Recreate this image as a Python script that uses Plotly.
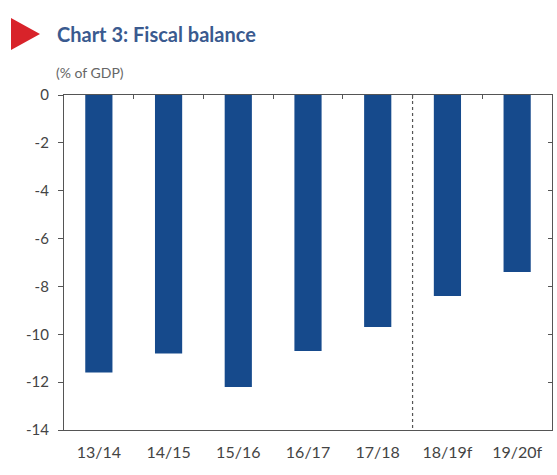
import plotly.graph_objects as go

years = ["13/14", "14/15", "15/16", "16/17", "17/18", "18/19f", "19/20f"]
balance = [-11.6, -10.8, -12.2, -10.7, -9.7, -8.4, -7.4]
y_ticks = [0, -2, -4, -6, -8, -10, -12, -14]
y_labels = [str(v) for v in y_ticks]  # plain hyphen, as in the original

W, H = 557, 475
L, R, T, B = 64, 5, 95, 45
pw, ph = W - L - R, H - T - B

def px(x):
    return (x - L) / pw

def py(y):
    return (H - B - y) / ph

fig = go.Figure()
fig.add_trace(go.Bar(x=years, y=balance, marker_color="#164a8c",
                     marker_line_width=0, width=0.39))

# red marker next to the title
tri = "M {} {} L {} {} L {} {} Z".format(px(11), py(18), px(40), py(34), px(11), py(50))
fig.add_shape(type="path", path=tri, xref="paper", yref="paper",
              fillcolor="#d8232a", line_width=0)

# forecast divider
fig.add_shape(type="line", x0=4.5, x1=4.5, y0=0, y1=-14, xref="x", yref="y",
              line=dict(color="#555555", width=1.2, dash="dot"))

fig.add_annotation(text="<b>Chart 3: Fiscal balance</b>", x=px(55), y=py(34),
                   xref="paper", yref="paper", xanchor="left", yanchor="middle",
                   showarrow=False, font=dict(family="Lato", size=20, color="#3a5a8f"))
fig.add_annotation(text="(% of GDP)", x=px(54), y=py(72),
                   xref="paper", yref="paper", xanchor="left", yanchor="middle",
                   showarrow=False, font=dict(family="Lato", size=14, color="#666666"))

fig.update_layout(
    width=W, height=H,
    margin=dict(l=L, r=R, t=T, b=B),
    plot_bgcolor="white", paper_bgcolor="white",
    showlegend=False,
    font=dict(family="Lato", size=15, color="#444444"),
    xaxis=dict(showline=True, linecolor="#555555", linewidth=1.2, mirror=True,
               ticks="", showgrid=False, zeroline=False, ticklen=0,
               tickfont=dict(size=16), ticklabelstandoff=8),
    yaxis=dict(range=[-14, 0], tickvals=y_ticks, ticktext=y_labels, showline=True,
               linecolor="#555555", linewidth=1.2, ticks="outside", ticklen=5,
               tickcolor="#555555", showgrid=False, zeroline=False,
               ticklabelstandoff=6),
    xaxis2=dict(overlaying="x", side="top", range=[-0.5, 6.5],
                tickvals=[0.5, 1.5, 2.5, 3.5, 4.5, 5.5], ticks="inside", ticklen=4,
                tickcolor="#555555", showticklabels=False, showgrid=False,
                zeroline=False, showline=False),
    yaxis2=dict(overlaying="y", side="right", range=[-14, 0], tickvals=y_ticks,
                ticks="inside", ticklen=4, tickcolor="#555555", showticklabels=False,
                showgrid=False, zeroline=False, showline=True, linecolor="#555555",
                linewidth=1.2),
)
fig.add_trace(go.Scatter(x=[0], y=[-20], xaxis="x2", yaxis="y2",
                         mode="markers", hoverinfo="skip", showlegend=False))

fig.write_html("out.html", config={"displayModeBar": False},
               post_script="document.body.style.margin='0';")
